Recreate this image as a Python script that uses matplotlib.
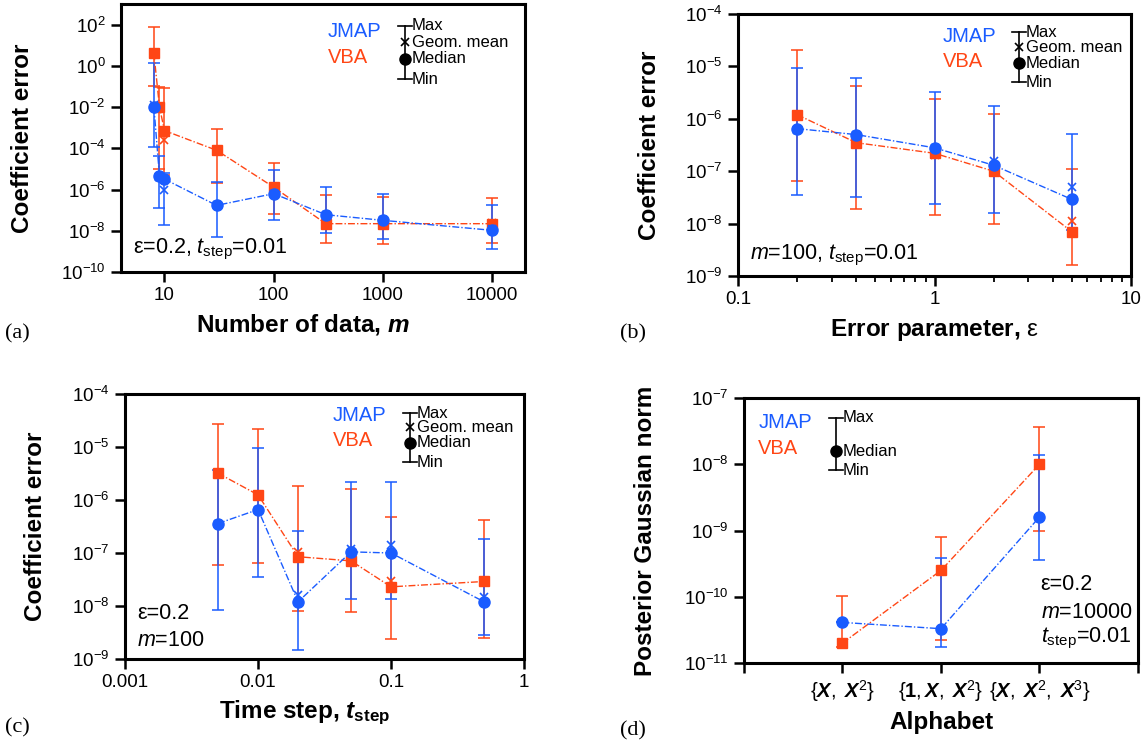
import numpy as np
import matplotlib
matplotlib.use('Agg')
import matplotlib.pyplot as plt

plt.rcParams['font.family'] = ['Liberation Sans', 'DejaVu Sans']
plt.rcParams['mathtext.fontset'] = 'custom'
plt.rcParams['mathtext.rm'] = 'Liberation Sans'
plt.rcParams['mathtext.it'] = 'Liberation Sans:italic'
plt.rcParams['mathtext.bf'] = 'Liberation Sans:bold'
plt.rcParams['mathtext.bfit'] = 'Liberation Sans:bold:italic'

BLUE = '#1a5cff'
RED = '#ff4615'

# (a) number of data
a_m = [8, 9, 10, 30, 100, 300, 1000, 10000]
a_jmap_med = [1.0e-2, 4.5e-6, 3.2e-6, 1.7e-7, 6.3e-7, 6.0e-8, 3.2e-8, 1.05e-8]
a_jmap_max = [1.3, 4.2e-5, 6.0e-6, 2.2e-6, 9.0e-6, 1.3e-6, 6.3e-7, 1.8e-7]
a_jmap_min = [1.1e-4, 1.3e-7, 1.8e-8, 5.0e-9, 3.3e-8, 7.8e-9, 4.0e-9, 1.3e-9]
a_jmap_gm = [1.2e-2, 4.0e-6, 9.0e-7, 1.7e-7, 6.0e-7, 6.0e-8, 3.5e-8, 1.2e-8]
a_vba_med = [4.0, 1.0e-2, 7.2e-4, 8.0e-5, 1.3e-6, 2.2e-8, 2.2e-8, 2.2e-8]
a_vba_max = [80.0, 0.09, 0.08, 9.0e-4, 2.0e-5, 5.6e-7, 4.3e-7, 3.9e-7]
a_vba_min = [0.1, 1.0e-5, 5.0e-6, 2.0e-6, 6.7e-8, 2.5e-9, 2.2e-9, 2.5e-9]
a_vba_gm = [4.0, 1.0e-2, 2.4e-4, 8.0e-5, 1.2e-6, 2.5e-8, 2.3e-8, 2.4e-8]
a_xticks = [10, 100, 1000, 10000]
a_yticks = [1e-10, 1e-8, 1e-6, 1e-4, 1e-2, 1e0, 1e2]

# (b) error parameter
b_eps = [0.2, 0.4, 1, 2, 5]
b_jmap_med = [6.5e-7, 5.0e-7, 2.8e-7, 1.3e-7, 2.9e-8]
b_jmap_max = [9.5e-6, 5.9e-6, 3.3e-6, 1.75e-6, 5.1e-7]
b_jmap_min = [3.5e-8, 3.2e-8, 2.4e-8, 1.6e-8, 7.6e-9]
b_jmap_gm = [6.0e-7, 5.0e-7, 2.8e-7, 1.6e-7, 4.9e-8]
b_vba_med = [1.2e-6, 3.5e-7, 2.2e-7, 1.0e-7, 7.0e-9]
b_vba_max = [2.1e-5, 4.3e-6, 2.4e-6, 1.23e-6, 1.1e-7]
b_vba_min = [6.6e-8, 1.9e-8, 1.45e-8, 1.0e-8, 1.6e-9]
b_vba_gm = [1.2e-6, 3.3e-7, 2.0e-7, 1.0e-7, 1.1e-8]
b_xticks = [0.1, 1, 10]
b_yticks = [1e-9, 1e-8, 1e-7, 1e-6, 1e-5, 1e-4]

# (c) time step
c_t = [0.005, 0.01, 0.02, 0.05, 0.1, 0.5]
c_jmap_med = [3.6e-7, 6.6e-7, 1.2e-8, 1.05e-7, 1.0e-7, 1.2e-8]
c_jmap_max = [3.7e-6, 9.5e-6, 2.6e-7, 2.2e-6, 2.2e-6, 1.8e-7]
c_jmap_min = [8.3e-9, 3.5e-8, 1.5e-9, 1.35e-8, 1.35e-8, 2.8e-9]
c_jmap_gm = [3.6e-7, 6.6e-7, 1.6e-8, 1.2e-7, 1.4e-7, 1.5e-8]
c_vba_med = [3.2e-6, 1.25e-6, 8.5e-8, 7.1e-8, 2.3e-8, 2.9e-8]
c_vba_max = [2.7e-5, 2.2e-5, 1.8e-6, 1.6e-6, 4.8e-7, 4.2e-7]
c_vba_min = [5.9e-8, 6.6e-8, 8.1e-9, 7.6e-9, 2.4e-9, 2.5e-9]
c_vba_gm = [3.2e-6, 1.25e-6, 1.05e-7, 7.5e-8, 3.0e-8, 2.9e-8]
c_xticks = [0.001, 0.01, 0.1, 1]
c_yticks = [1e-9, 1e-8, 1e-7, 1e-6, 1e-5, 1e-4]

# (d) alphabet
d_labels = [r'$\{\mathbfit{X},\ \mathbfit{X}^{2}\}$',
            r'$\{\mathbf{1},\mathbfit{X},\ \mathbfit{X}^{2}\}$',
            r'$\{\mathbfit{X},\ \mathbfit{X}^{2},\ \mathbfit{X}^{3}\}$']
d_jmap_med = [4.1e-11, 3.3e-11, 1.6e-9]
d_jmap_max = [4.1e-11, 3.8e-10, 1.4e-8]
d_jmap_min = [4.1e-11, 1.74e-11, 3.6e-10]
d_vba_med = [2.0e-11, 2.5e-10, 1.0e-8]
d_vba_max = [1.02e-10, 7.9e-10, 3.7e-8]
d_vba_min = [1.74e-11, 2.2e-11, 1.0e-9]
d_yticks = [1e-11, 1e-10, 1e-9, 1e-8, 1e-7]

DASH = (0, (5, 1.5, 1, 1.5))
LABEL_FS = 17.5


def series(ax, x, med, mn, mx, gm, color, marker, ms):
    med = np.array(med)
    yerr = [med - np.array(mn), np.array(mx) - med]
    ax.errorbar(x, med, yerr=yerr, fmt='none', ecolor=color, elinewidth=1.3,
                capsize=4.5, capthick=1.3, alpha=0.85, zorder=2)
    ax.plot(x, med, color=color, ls=DASH, lw=1.0, marker=marker, ms=ms,
            mec=color, mfc=color, zorder=3)
    if gm is not None:
        ax.plot(x, gm, ls='none', marker='x', ms=6, mew=1.2, color=color, zorder=3)


def style(ax, yticks):
    ax.set_yscale('log')
    for s in ax.spines.values():
        s.set_linewidth(2.2)
    ax.tick_params(which='major', direction='out', length=7, width=1.8,
                   labelsize=13.5, pad=4)
    ax.tick_params(which='minor', direction='out', length=4, width=1.3)
    ax.set_yticks(yticks)
    ax.set_yticklabels([r'$\mathregular{10^{%d}}$' % int(round(np.log10(v))) for v in yticks])
    ax.yaxis.set_minor_locator(matplotlib.ticker.NullLocator())


def key(ax, x0, ys, labels, tx, jx, jy, vy):
    tr = ax.transAxes
    ax.plot([x0, x0], [ys[-1], ys[0]], color='black', lw=1.2, transform=tr, zorder=5)
    for yy in (ys[0], ys[-1]):
        ax.plot([x0 - 0.018, x0 + 0.018], [yy, yy], color='black', lw=1.2,
                transform=tr, zorder=5)
    if len(ys) == 4:
        ax.plot([x0], [ys[1]], marker='x', ms=6, mew=1.2, color='black',
                transform=tr, zorder=5)
    ax.plot([x0], [ys[-2]], marker='o', ms=8, color='black', transform=tr, zorder=5)
    for yy, lab in zip(ys, labels):
        ax.text(tx, yy, lab, transform=tr, fontsize=12, va='center', ha='left')
    ax.text(jx, jy, 'JMAP', transform=tr, fontsize=14.5, color=BLUE, va='center')
    ax.text(jx, vy, 'VBA', transform=tr, fontsize=14.5, color=RED, va='center')


fig = plt.figure(figsize=(11.46, 7.47), dpi=100)

# panel (a)
ax = fig.add_axes([0.1056, 0.6359, 0.3525, 0.3588])
series(ax, a_m, a_vba_med, a_vba_min, a_vba_max, a_vba_gm, RED, 's', 7.5)
series(ax, a_m, a_jmap_med, a_jmap_min, a_jmap_max, a_jmap_gm, BLUE, 'o', 8)
ax.set_xscale('log')
style(ax, a_yticks)
ax.set_xlim(4, 20000)
ax.set_ylim(1e-10, 1e3)
ax.set_xticks(a_xticks)
ax.set_xticklabels([str(v) for v in a_xticks])
ax.xaxis.set_minor_locator(matplotlib.ticker.NullLocator())
ax.set_xlabel(r'Number of data, $\mathbfit{m}$', fontsize=LABEL_FS, fontweight='bold')
ax.xaxis.set_label_coords(0.45, -0.15)
ax.set_ylabel('Coefficient error', fontsize=LABEL_FS, fontweight='bold')
ax.yaxis.set_label_coords(-0.215, 0.5)
key(ax, 0.703, [0.918, 0.858, 0.795, 0.72], ['Max', 'Geom. mean', 'Median', 'Min'],
    0.72, 0.512, 0.896, 0.80)
ax.text(0.03, 0.085, r'ε=0.2, $\mathit{t}_{\mathrm{step}}$=0.01', transform=ax.transAxes,
        fontsize=15.5, va='center')
fig.text(0.004, 0.553, '(a)', family='Liberation Serif', fontsize=16, va='center')

# panel (b)
ax = fig.add_axes([0.644, 0.6305, 0.3429, 0.3507])
series(ax, b_eps, b_vba_med, b_vba_min, b_vba_max, b_vba_gm, RED, 's', 7.5)
series(ax, b_eps, b_jmap_med, b_jmap_min, b_jmap_max, b_jmap_gm, BLUE, 'o', 8)
ax.set_xscale('log')
style(ax, b_yticks)
ax.set_xlim(0.1, 10)
ax.set_ylim(1e-9, 1e-4)
ax.set_xticks(b_xticks)
ax.set_xticklabels(['0.1', '1', '10'])
ax.xaxis.set_minor_locator(matplotlib.ticker.LogLocator(subs=np.arange(2, 10)))
ax.xaxis.set_minor_formatter(matplotlib.ticker.NullFormatter())
ax.set_xlabel(r'Error parameter, $\mathrm{ε}$', fontsize=LABEL_FS, fontweight='bold')
ax.xaxis.set_label_coords(0.5, -0.155)
ax.set_ylabel('Coefficient error', fontsize=LABEL_FS, fontweight='bold')
ax.yaxis.set_label_coords(-0.195, 0.5)
key(ax, 0.715, [0.931, 0.874, 0.813, 0.74], ['Max', 'Geom. mean', 'Median', 'Min'],
    0.733, 0.522, 0.916, 0.817)
ax.text(0.03, 0.08, r'$\mathit{m}$=100, $\mathit{t}_{\mathrm{step}}$=0.01', transform=ax.transAxes,
        fontsize=15.5, va='center')
fig.text(0.541, 0.553, '(b)', family='Liberation Serif', fontsize=16, va='center')

# panel (c)
ax = fig.add_axes([0.1091, 0.1178, 0.3482, 0.3548])
series(ax, c_t, c_vba_med, c_vba_min, c_vba_max, c_vba_gm, RED, 's', 7.5)
series(ax, c_t, c_jmap_med, c_jmap_min, c_jmap_max, c_jmap_gm, BLUE, 'o', 8)
ax.set_xscale('log')
style(ax, c_yticks)
ax.set_xlim(0.001, 1)
ax.set_ylim(1e-9, 1e-4)
ax.set_xticks(c_xticks)
ax.set_xticklabels(['0.001', '0.01', '0.1', '1'])
ax.xaxis.set_minor_locator(matplotlib.ticker.NullLocator())
ax.set_xlabel(r'Time step, $\mathbfit{t}_{\mathbf{step}}$', fontsize=LABEL_FS, fontweight='bold')
ax.xaxis.set_label_coords(0.45, -0.15)
ax.set_ylabel('Coefficient error', fontsize=LABEL_FS, fontweight='bold')
ax.yaxis.set_label_coords(-0.195, 0.5)
key(ax, 0.714, [0.928, 0.875, 0.815, 0.743], ['Max', 'Geom. mean', 'Median', 'Min'],
    0.732, 0.521, 0.92, 0.823)
ax.text(0.03, 0.17, 'ε=0.2', transform=ax.transAxes, fontsize=15.5, va='center')
ax.text(0.03, 0.07, r'$\mathit{m}$=100', transform=ax.transAxes, fontsize=15.5, va='center')
fig.text(0.004, 0.025, '(c)', family='Liberation Serif', fontsize=16, va='center')

# panel (d)
ax = fig.add_axes([0.6492, 0.1124, 0.3438, 0.3548])
d_x = np.arange(1, len(d_labels) + 1)
series(ax, d_x, d_vba_med, d_vba_min, d_vba_max, None, RED, 's', 7.5)
series(ax, d_x, d_jmap_med, d_jmap_min, d_jmap_max, None, BLUE, 'o', 8)
style(ax, d_yticks)
ax.set_xlim(0, len(d_labels) + 1)
ax.set_ylim(1e-11, 1e-7)
ax.set_xticks(np.arange(0, len(d_labels) + 2))
ax.set_xticklabels([''] + d_labels + [''], fontsize=14.5)
ax.set_xlabel('Alphabet', fontsize=LABEL_FS, fontweight='bold')
ax.xaxis.set_label_coords(0.5, -0.18)
ax.set_ylabel('Posterior Gaussian norm', fontsize=LABEL_FS, fontweight='bold')
ax.yaxis.set_label_coords(-0.22, 0.5)
key(ax, 0.234, [0.925, 0.8, 0.728], ['Max', 'Median', 'Min'], 0.251, 0.036, 0.906, 0.808)
ax.text(0.753, 0.295, 'ε=0.2', transform=ax.transAxes, fontsize=15.5, va='center')
ax.text(0.753, 0.192, r'$\mathit{m}$=10000', transform=ax.transAxes, fontsize=15.5, va='center')
ax.text(0.753, 0.094, r'$\mathit{t}_{\mathrm{step}}$=0.01', transform=ax.transAxes, fontsize=15.5, va='center')
fig.text(0.541, 0.022, '(d)', family='Liberation Serif', fontsize=16, va='center')

fig.savefig('out.png', dpi=100)
